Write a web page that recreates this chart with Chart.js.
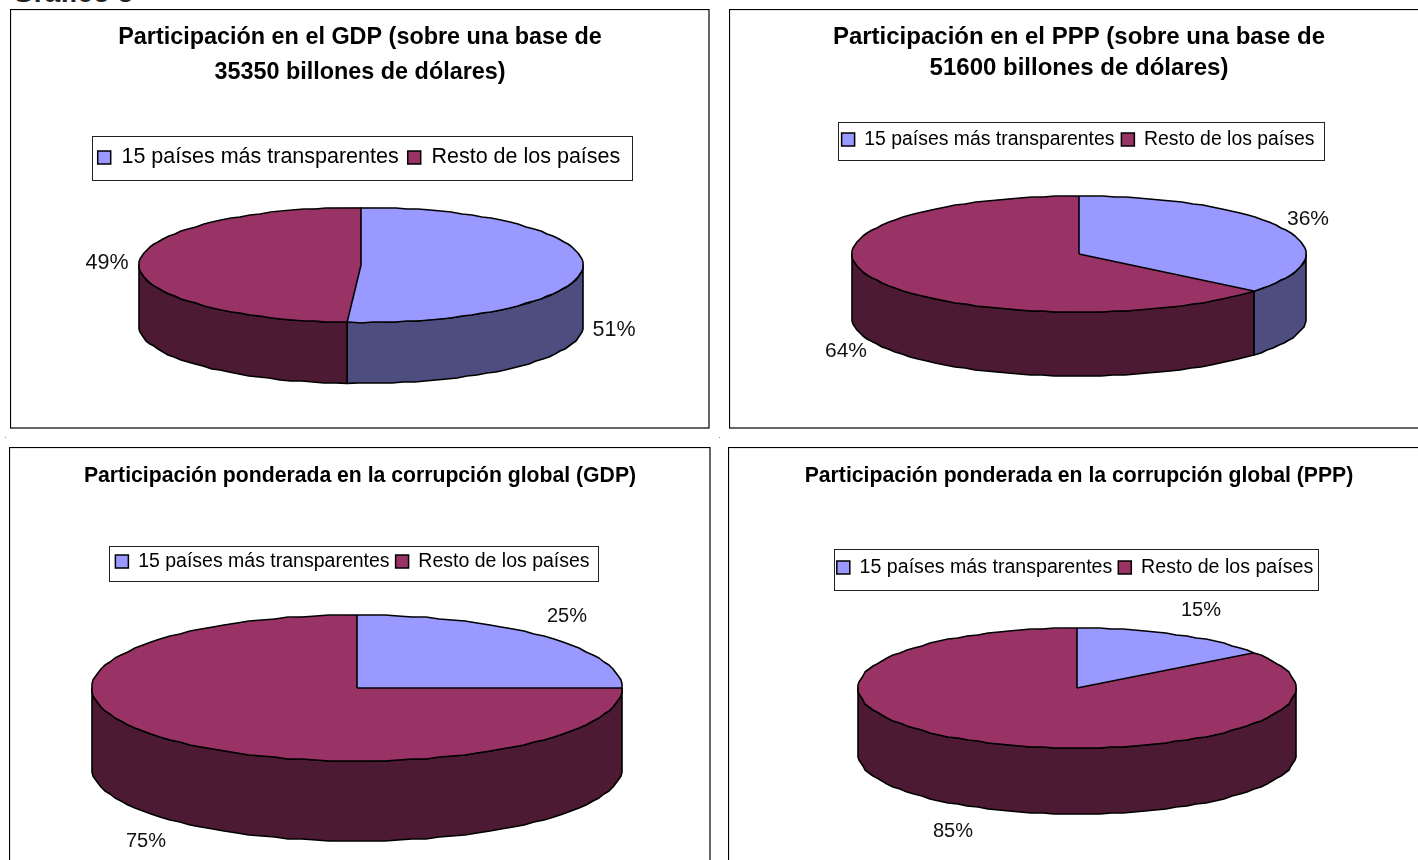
<!DOCTYPE html>
<html><head><meta charset="utf-8">
<style>
html,body{margin:0;padding:0;width:1418px;height:860px;overflow:hidden;background:#fff}
canvas{position:absolute;display:block}
#h{position:absolute;left:12px;top:-25px;font:bold 28px "Liberation Sans",Arial,sans-serif;color:#222;white-space:nowrap;line-height:36px}
.d{position:absolute;width:1px;height:1px;background:#888}
</style>
<script src="https://cdn.jsdelivr.net/npm/chart.js@4/dist/chart.umd.min.js"></script>
</head><body>
<div id="h">Gráfico 5</div>
<div class="d" style="left:5px;top:437px"></div>
<div class="d" style="left:719px;top:437px"></div>
<canvas id="c1" width="700" height="420" style="left:10px;top:9px"></canvas>
<canvas id="c2" width="700" height="420" style="left:729px;top:9px"></canvas>
<canvas id="c3" width="702" height="430" style="left:9px;top:447px"></canvas>
<canvas id="c4" width="702" height="430" style="left:728px;top:447px"></canvas>
<script>
const categories = ['15 países más transparentes', 'Resto de los países'];
const gdpShare = [51, 49];
const pppShare = [36, 64];
const gdpCorruption = [25, 75];
const pppCorruption = [15, 85];
const title1 = ['Participación en el GDP (sobre una base de', '35350 billones de dólares)'];
const title2 = ['Participación en el PPP (sobre una base de', '51600 billones de dólares)'];
const title3 = 'Participación ponderada en la corrupción global (GDP)';
const title4 = 'Participación ponderada en la corrupción global (PPP)';
const topColors = ['#9999FF', '#993366'];
const wallColors = ['#4D4D80', '#4D1A33'];
const FONT = '"Liberation Sans", Arial, sans-serif';

// Finely stepped elliptical polyline, like the slightly uneven outline of the original rendering.
function rim(c, cx, cy, rx, ry, a, e) {
  const step = Math.PI / 60;
  const n = Math.max(1, Math.ceil(Math.abs(e - a) / step));
  for (let k = 0; k <= n; k++) {
    const t = a + (e - a) * k / n;
    const x = cx + rx * Math.cos(t), y = cy + ry * Math.sin(t);
    const inner = k > 0 && k < n;
    c.lineTo(inner ? Math.round(x) : x, inner ? Math.round(y) : y);
  }
}

const pie3d = {
  id: 'pie3d',
  afterLayout(chart, _a, o) {
    const lg = chart.legend, b = o.legendBox;
    const w = lg.width, h = lg.height;
    lg.left = b.x + (b.w - w) / 2 + o.legendDx; lg.right = lg.left + w;
    lg.top = b.y + (b.h - h) / 2; lg.bottom = lg.top + h;
  },
  beforeDraw(chart) {
    const c = chart.ctx;
    c.save();
    c.fillStyle = '#fff'; c.fillRect(0, 0, chart.width, chart.height);
    c.strokeStyle = '#000'; c.lineWidth = 1.2;
    c.strokeRect(0.5, 0.5, chart.width - 1.5, chart.height - 1.5);
    c.restore();
  },
  beforeDatasetsDraw(chart, _a, o) {
    const c = chart.ctx, b = o.legendBox;
    c.save();
    c.strokeStyle = '#222'; c.lineWidth = 1;
    c.strokeRect(b.x + .5, b.y + .5, b.w, b.h);
    const { cx, cy, rx, ry, depth } = o;
    c.lineWidth = 1.6; c.strokeStyle = '#000'; c.lineJoin = 'round';
    chart.getDatasetMeta(0).data.forEach((arc, i) => {
      const a = Math.max(arc.startAngle, 0), e = Math.min(arc.endAngle, Math.PI);
      if (e <= a) return;
      c.beginPath();
      rim(c, cx, cy, rx, ry, a, e);
      rim(c, cx, cy + depth, rx, ry, e, a);
      c.closePath();
      c.fillStyle = wallColors[i];
      c.fill(); c.stroke();
    });
    c.restore();
  },
  beforeDatasetDraw(chart, _a, o) {
    const c = chart.ctx, arc = chart.getDatasetMeta(0).data[0], R = arc.outerRadius;
    c.save();
    c.translate(o.cx, o.cy);
    c.scale(o.rx / R, o.ry / R);
    c.translate(-arc.x, -arc.y);
  },
  afterDatasetDraw(chart) { chart.ctx.restore(); },
  afterDatasetsDraw(chart, _a, o) {
    const c = chart.ctx, { cx, cy, rx, ry } = o;
    c.save();
    c.lineWidth = 1.6; c.strokeStyle = '#000'; c.lineJoin = 'round';
    c.beginPath(); rim(c, cx, cy, rx, ry, 0, Math.PI * 2); c.closePath(); c.stroke();
    chart.getDatasetMeta(0).data.forEach(arc => {
      c.beginPath(); c.moveTo(cx, cy);
      c.lineTo(cx + rx * Math.cos(arc.startAngle), cy + ry * Math.sin(arc.startAngle));
      c.stroke();
    });
    c.fillStyle = '#111'; c.font = o.pctSize + 'px ' + FONT;
    c.textAlign = 'center'; c.textBaseline = 'middle';
    chart.data.datasets[0].data.forEach((v, i) => {
      c.fillText(v + '%', o.pct[i][0], o.pct[i][1]);
    });
    c.restore();
  }
};

function make(id, values, title, p) {
  return new Chart(document.getElementById(id), {
    type: 'pie',
    data: { labels: categories, datasets: [{ data: values, backgroundColor: topColors, borderWidth: 0 }] },
    plugins: [pie3d],
    options: {
      responsive: false, animation: false, events: [],
      plugins: {
        tooltip: { enabled: false },
        title: { display: true, text: title, color: '#000',
          font: { family: FONT, weight: 'bold', size: p.titleSize, lineHeight: p.titleLine },
          padding: { top: p.titleTop, bottom: 10 } },
        legend: { display: true, position: 'top',
          labels: { color: '#000', font: { family: FONT, size: p.legendSize },
            boxWidth: p.swatch, boxHeight: p.swatch, padding: p.gap,
            generateLabels: ch => categories.map((t, i) => ({
              text: t, fillStyle: topColors[i], strokeStyle: '#000', lineWidth: 1.5, hidden: false, index: i })) } },
        pie3d: p
      }
    }
  });
}

make('c1', gdpShare, title1, { titleSize: 23.4, titleLine: 1.5, titleTop: 11, legendSize: 21.5, swatch: 13, gap: 9, legendDx: -3,
  legendBox: { x: 82, y: 127, w: 540, h: 44 }, cx: 351, cy: 256, rx: 222, ry: 57.5, depth: 61, pctSize: 21.5,
  pct: [[604, 321], [97, 254]] });
make('c2', pppShare, title2, { titleSize: 24, titleLine: 1.29, titleTop: 13, legendSize: 19.4, swatch: 13, gap: 7, legendDx: -3,
  legendBox: { x: 109, y: 113, w: 486, h: 38 }, cx: 350, cy: 245, rx: 227, ry: 58, depth: 64, pctSize: 21,
  pct: [[579, 210], [117, 342]] });
make('c3', gdpCorruption, title3, { titleSize: 21.2, titleLine: 1.2, titleTop: 16, legendSize: 19.5, swatch: 13, gap: 6, legendDx: -1,
  legendBox: { x: 100, y: 99, w: 489, h: 35 }, cx: 348, cy: 241, rx: 265, ry: 73, depth: 80, pctSize: 20,
  pct: [[558, 169], [137, 394]] });
make('c4', pppCorruption, title4, { titleSize: 21.2, titleLine: 1.2, titleTop: 16, legendSize: 19.6, swatch: 13, gap: 6, legendDx: -1,
  legendBox: { x: 106, y: 102, w: 484, h: 41 }, cx: 349, cy: 241, rx: 219, ry: 60, depth: 66, pctSize: 20,
  pct: [[473, 163], [225, 384]] });
</script>
</body></html>
